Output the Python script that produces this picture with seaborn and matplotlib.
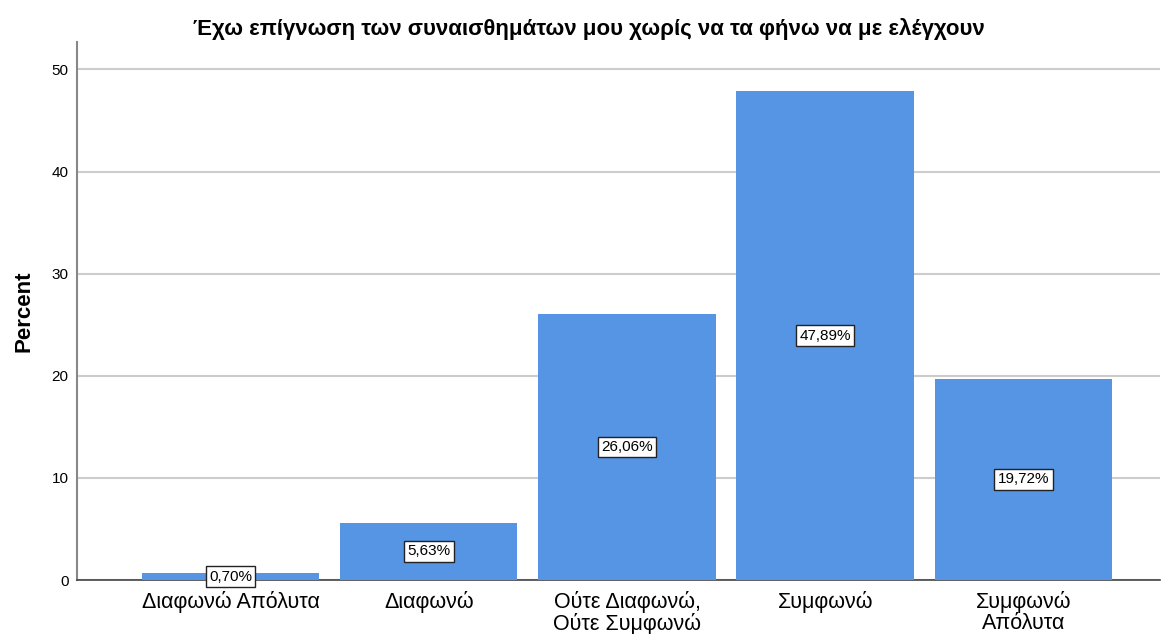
import matplotlib
matplotlib.use("Agg")
import matplotlib.pyplot as plt
import seaborn as sns
import pandas as pd

# data
categories = ["Διαφωνώ Απόλυτα", "Διαφωνώ", "Ούτε Διαφωνώ,\nΟύτε Συμφωνώ", "Συμφωνώ", "Συμφωνώ\nΑπόλυτα"]
percent = [0.70, 5.63, 26.06, 47.89, 19.72]
value_labels = ["0,70%", "5,63%", "26,06%", "47,89%", "19,72%"]
title = "Έχω επίγνωση των συναισθημάτων μου χωρίς να τα φήνω να με ελέγχουν"

sns.set_theme(style="white")
plt.rcParams["font.family"] = ["Liberation Sans", "DejaVu Sans"]
plt.rcParams["text.color"] = "black"
plt.rcParams["xtick.color"] = "black"
plt.rcParams["ytick.color"] = "black"
plt.rcParams["axes.labelcolor"] = "black"

df = pd.DataFrame({"cat": categories, "pct": percent})

fig = plt.figure(figsize=(11.66, 6.34), dpi=100)
ax = fig.add_axes([0.066, 0.085, 0.929, 0.849])

sns.barplot(data=df, x="cat", y="pct", color="#5595E4", saturation=1,
            width=0.895, ax=ax, zorder=3, edgecolor="none")

ax.set_xlim(-0.775, 4.69)
ax.set_ylim(0, 52.7)
ax.set_yticks([0, 10, 20, 30, 40, 50])
ax.yaxis.grid(True, color="#cccccc", linewidth=1.5, zorder=0)
ax.set_axisbelow(True)

for i, (v, lab) in enumerate(zip(percent, value_labels)):
    ax.text(i, max(v / 2, 0.15), lab, ha="center", va="center", fontsize=11,
            zorder=5, bbox=dict(boxstyle="square,pad=0.22", fc="white", ec="#222222", lw=1))

ax.set_xlabel("")
ax.set_ylabel("Percent", fontsize=16, fontweight="bold", labelpad=12)
fig.text(0.505, 0.955, title, ha="center", va="center", fontsize=16, fontweight="bold")
ax.tick_params(axis="x", labelsize=15.5, pad=8, length=0)
ax.tick_params(axis="y", labelsize=11, length=0, pad=6)
for lbl in ax.get_xticklabels():
    lbl.set_linespacing(0.98)

for s in ["top", "right"]:
    ax.spines[s].set_visible(False)
ax.spines["left"].set_color("#888888")
ax.spines["left"].set_linewidth(1.5)
ax.spines["bottom"].set_color("#444444")
ax.spines["bottom"].set_linewidth(1.2)

fig.savefig("out.png", dpi=100)
